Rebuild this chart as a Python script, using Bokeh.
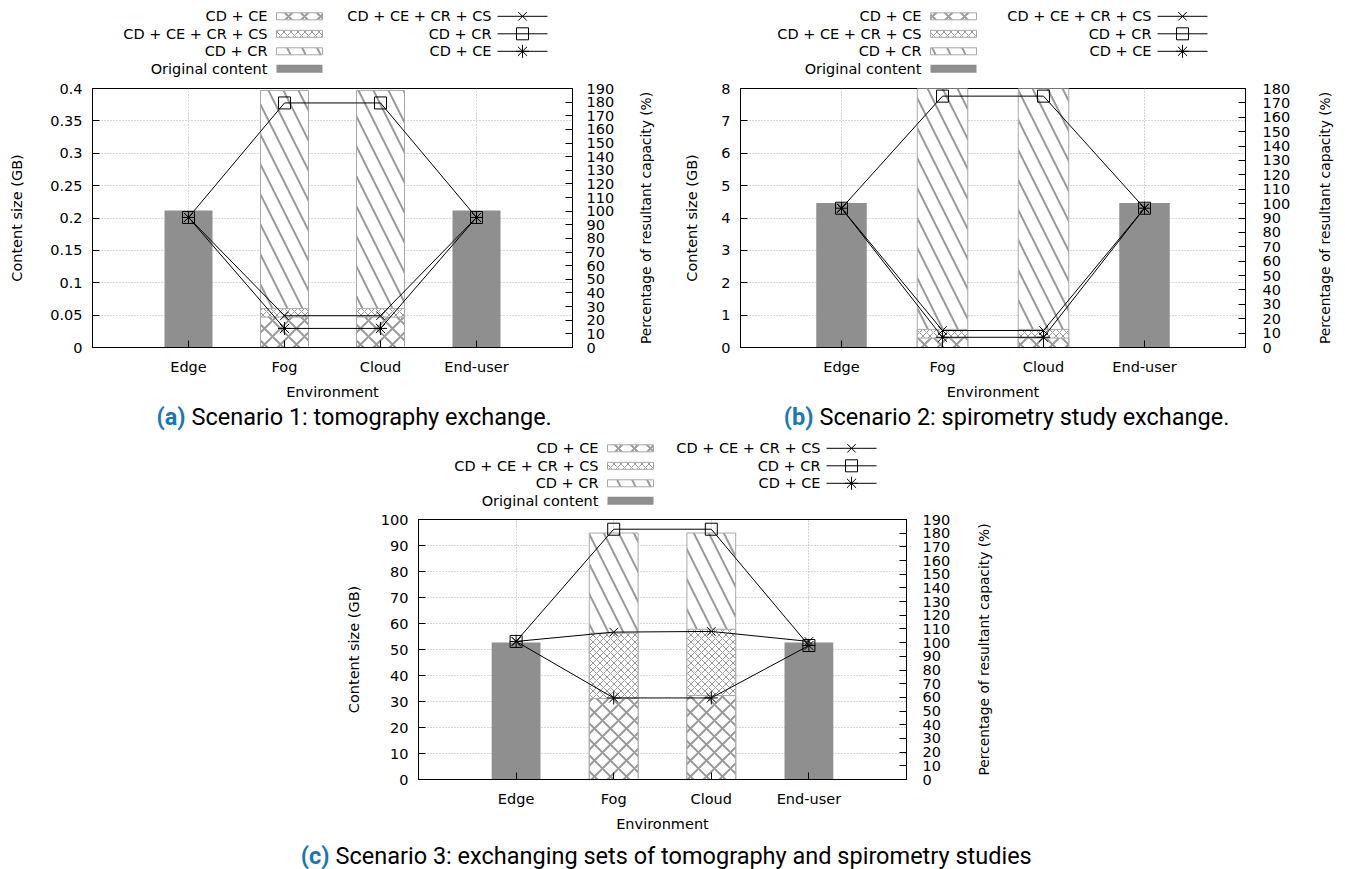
import math
from bokeh.plotting import figure
from bokeh.models import (Range1d, FactorRange, LinearAxis, FixedTicker,
                          CustomJSTickFormatter, Spacer, Label)
from bokeh.layouts import column, row
from bokeh.core.properties import value
from bokeh.embed import file_html
from bokeh.resources import INLINE

# ---------------- data ----------------
categories = ["Edge", "Fog", "Cloud", "End-user"]
original_envs = ["Edge", "End-user"]
reduced_envs = ["Fog", "Cloud"]

bar_legend_labels = ["CD + CE", "CD + CE + CR + CS", "CD + CR", "Original content"]
line_legend_labels = ["CD + CE + CR + CS", "CD + CR", "CD + CE"]

x_label = "Environment"
y_label = "Content size (GB)"
y2_label = "Percentage of resultant capacity (%)"

caption_tags = ["(a)", "(b)", "(c)"]
caption_texts = ["Scenario 1: tomography exchange.",
                 "Scenario 2: spirometry study exchange.",
                 "Scenario 3: exchanging sets of tomography and spirometry studies"]

# Scenario 1 (GB / %)
s1_original = [0.2116, 0.2116]
s1_cd_cr = [0.397, 0.397]
s1_cd_ce_cr_cs = [0.060, 0.060]
s1_cd_ce = [0.047, 0.047]
s1_pct_cd_ce_cr_cs = [95.4, 23.3, 23.3, 95.4]
s1_pct_cd_cr = [95.4, 179.4, 179.4, 95.4]
s1_pct_cd_ce = [95.4, 14.0, 14.0, 95.4]
s1_y_ticks = [0, 0.05, 0.1, 0.15, 0.2, 0.25, 0.3, 0.35, 0.4]
s1_y2_ticks = [0, 10, 20, 30, 40, 50, 60, 70, 80, 90, 100, 110, 120, 130, 140, 150, 160, 170, 180, 190]

# Scenario 2
s2_original = [4.46, 4.46]
s2_cd_cr = [8.3, 8.3]
s2_cd_ce_cr_cs = [0.56, 0.56]
s2_cd_ce = [0.29, 0.29]
s2_pct_cd_ce_cr_cs = [96.8, 11.8, 11.8, 96.8]
s2_pct_cd_cr = [96.8, 174.7, 174.7, 96.8]
s2_pct_cd_ce = [96.8, 7.1, 7.1, 96.8]
s2_y_ticks = [0, 1, 2, 3, 4, 5, 6, 7, 8]
s2_y2_ticks = [0, 10, 20, 30, 40, 50, 60, 70, 80, 90, 100, 110, 120, 130, 140, 150, 160, 170, 180]

# Scenario 3
s3_original = [52.7, 52.7]
s3_cd_cr = [94.8, 94.8]
s3_cd_ce_cr_cs = [56.3, 57.8]
s3_cd_ce = [31.2, 32.3]
s3_pct_cd_ce_cr_cs = [100.9, 107.7, 108.2, 100.9]
s3_pct_cd_cr = [100.9, 182.9, 182.9, 97.9]
s3_pct_cd_ce = [100.9, 59.6, 59.6, 97.9]
s3_y_ticks = [0, 10, 20, 30, 40, 50, 60, 70, 80, 90, 100]
s3_y2_ticks = [0, 10, 20, 30, 40, 50, 60, 70, 80, 90, 100, 110, 120, 130, 140, 150, 160, 170, 180, 190]

# ---------------- style ----------------
FONT = "DejaVu Sans"
FS = "14.5px"
Y2_FS = "13.8px"
CAP_FONT = "Roboto"
CAP_FS = "23.5px"
BAR_GRAY = "#8f8f8f"
HATCH_GRAY = "#9a9a9a"
OUTLINE_GRAY = "#a8a8a8"
GRID_GRAY = "#b0b0b0"
TAG_BLUE = "#1877b8"

bar_styles = [
    dict(fill_color="white", line_color=OUTLINE_GRAY, hatch_pattern="diagonal_cross",
         hatch_color=HATCH_GRAY, hatch_scale=16, hatch_weight=2),          # CD + CE
    dict(fill_color="white", line_color=OUTLINE_GRAY, hatch_pattern="diagonal_cross",
         hatch_color=HATCH_GRAY, hatch_scale=7, hatch_weight=1),           # CD + CE + CR + CS
    dict(fill_color="white", line_color=OUTLINE_GRAY, hatch_pattern="left_diagonal_line",
         hatch_color=HATCH_GRAY, hatch_scale=30, hatch_weight=2),          # CD + CR
    dict(fill_color=BAR_GRAY, line_color=None),                            # Original
]
line_markers = ["x", "square", "asterisk"]
marker_sizes = [12, 12, 13]


def blank_fig(width, height, xr, yr, bl=0, br=0, bt=0, bb=0):
    p = figure(width=width, height=height, x_range=xr, y_range=yr,
               toolbar_location=None, output_backend="svg",
               min_border_left=bl, min_border_right=br,
               min_border_top=bt, min_border_bottom=bb,
               x_axis_location=None, y_axis_location=None)
    p.grid.visible = False
    p.outline_line_color = None
    p.background_fill_color = "white"
    p.border_fill_color = "white"
    return p


def style_axis(ax, label_standoff, axis_label_standoff):
    ax.major_tick_in = 7
    ax.major_tick_out = 0
    ax.minor_tick_in = 0
    ax.minor_tick_out = 0
    ax.axis_line_color = "black"
    ax.major_tick_line_color = "black"
    ax.major_label_text_font = FONT
    ax.major_label_text_font_size = FS
    ax.major_label_text_color = "black"
    ax.axis_label_text_font = FONT
    ax.axis_label_text_font_size = FS
    ax.axis_label_text_font_style = "normal"
    ax.axis_label_text_color = "black"
    ax.major_label_standoff = label_standoff
    ax.axis_label_standoff = axis_label_standoff


def main_panel(y_ticks, y2_ticks, original, cr, cs, ce, pct_cs, pct_cr, pct_ce,
               fw, fh, bl, br, bt, bb, yls, yas, y2ls, fmt=None):
    p = figure(width=bl + fw + br, height=bt + fh + bb,
               x_range=FactorRange(factors=categories, range_padding=0.5,
                                   range_padding_units="absolute"),
               y_range=Range1d(0, y_ticks[-1]),
               toolbar_location=None, output_backend="svg",
               min_border_left=bl, min_border_right=br,
               min_border_top=bt, min_border_bottom=bb)
    p.extra_y_ranges = {"pct": Range1d(0, y2_ticks[-1])}
    p.background_fill_color = "white"
    p.border_fill_color = "white"
    p.outline_line_color = "black"
    p.outline_line_alpha = 1
    p.outline_line_width = 1

    p.vbar(x=reduced_envs, top=cr, bottom=0, width=0.5, **bar_styles[2])
    p.vbar(x=reduced_envs, top=cs, bottom=0, width=0.5, **bar_styles[1])
    p.vbar(x=reduced_envs, top=ce, bottom=0, width=0.5, **bar_styles[0])
    p.vbar(x=original_envs, top=original, bottom=0, width=0.5, **bar_styles[3])

    for vals, mk, sz in zip([pct_cs, pct_cr, pct_ce], line_markers, marker_sizes):
        p.line(categories, vals, y_range_name="pct", line_color="black", line_width=1)
        p.scatter(categories, vals, y_range_name="pct", marker=mk, size=sz,
                  line_color="black", fill_color=None, line_width=1)

    xax = p.xaxis[0]
    xax.axis_label = x_label
    style_axis(xax, 11, 6)
    yax = p.yaxis[0]
    yax.ticker = FixedTicker(ticks=y_ticks)
    if fmt is not None:
        yax.formatter = fmt
    yax.axis_label = y_label
    style_axis(yax, yls, yas)
    y2 = LinearAxis(y_range_name="pct", ticker=FixedTicker(ticks=y2_ticks))
    style_axis(y2, y2ls, 0)
    p.add_layout(y2, "right")

    p.ygrid[0].ticker = FixedTicker(ticks=y_ticks)
    for g in (p.xgrid[0], p.ygrid[0]):
        g.grid_line_color = GRID_GRAY
        g.grid_line_dash = "1 2"
        g.grid_line_width = 1
    return p


def right_label_strip(sw, fh, bt, bb, x_center):
    p = blank_fig(sw, bt + fh + bb, Range1d(0, sw), Range1d(0, 1), bt=bt, bb=bb)
    p.add_layout(Label(x=x_center, y=0.5, text=y2_label, angle=math.pi / 2,
                       text_align="center", text_baseline="middle",
                       text_font=FONT, text_font_size=Y2_FS, text_color="black"))
    return p


def legend_fig(width, height, fw, bl, br, sw_left, r_label_right, r_line_left):
    p = blank_fig(width, height, Range1d(0, fw), Range1d(height, 0), bl=bl, br=br)
    ys = [15.8 + 17.5 * i for i in range(4)]
    for i, st in enumerate(bar_styles):
        hh = 4 if i == 3 else 3.5
        p.quad(left=[sw_left], right=[sw_left + 46], top=[ys[i] - hh],
               bottom=[ys[i] + hh], **st)
    p.text(x=[sw_left - 9] * 4, y=ys, text=bar_legend_labels, text_align="right",
           text_baseline="middle", text_font=value(FONT), text_font_size=FS,
           text_color="black")
    ys2 = ys[:3]
    p.text(x=[r_label_right] * 3, y=ys2, text=line_legend_labels, text_align="right",
           text_baseline="middle", text_font=value(FONT), text_font_size=FS,
           text_color="black")
    p.segment(x0=[r_line_left] * 3, x1=[r_line_left + 50] * 3, y0=ys2, y1=ys2,
              line_color="black", line_width=1)
    for y, mk, sz in zip(ys2, line_markers, marker_sizes):
        p.scatter([r_line_left + 25], [y], marker=mk, size=sz, line_color="black",
                  fill_color=None, line_width=1)
    return p


def caption_fig(width, height, tags, texts, tag_right, y):
    p = blank_fig(width, height, Range1d(0, width), Range1d(height, 0))
    p.text(x=tag_right, y=[y] * len(tags), text=tags, text_align="right",
           text_baseline="middle", text_font=value(CAP_FONT), text_font_size=CAP_FS,
           text_font_style="bold", text_color=TAG_BLUE)
    p.text(x=[t + 6 for t in tag_right], y=[y] * len(tags), text=texts, text_align="left",
           text_baseline="middle", text_font=value(CAP_FONT), text_font_size=CAP_FS,
           text_color="black")
    return p


def panel(leg_pos, strip_w, strip_x, fw, fh, bl, br, bt, bb, main_args, axis_args):
    mp = main_panel(*main_args, fw, fh, bl, br, bt, bb, *axis_args)
    total_w = bl + fw + br + strip_w
    lg = legend_fig(total_w, 80, fw, bl, br + strip_w, *leg_pos)
    st = right_label_strip(strip_w, fh, bt, bb, strip_x)
    return column(lg, row(mp, st))


fmt1 = CustomJSTickFormatter(code="return String(Number(tick.toFixed(2)));")

panelA = panel((184, 399, 405), 28, 13, 480, 259, 92, 60, 8, 56,
               (s1_y_ticks, s1_y2_ticks, s1_original, s1_cd_cr, s1_cd_ce_cr_cs, s1_cd_ce,
                s1_pct_cd_ce_cr_cs, s1_pct_cd_cr, s1_pct_cd_ce),
               (10, 22, 14, fmt1))

panelB = panel((190, 411, 417), 40, 19, 505, 259, 80, 60, 8, 56,
               (s2_y_ticks, s2_y2_ticks, s2_original, s2_cd_cr, s2_cd_ce_cr_cs, s2_cd_ce,
                s2_pct_cd_ce_cr_cs, s2_pct_cd_cr, s2_pct_cd_ce),
               (10, 18, 17))

capAB = caption_fig(1345, 29, caption_tags[:2], caption_texts[:2], [185, 813], 13)

panelC = panel((189, 402, 408), 40, 17, 488, 260, 88, 60, 7, 56,
               (s3_y_ticks, s3_y2_ticks, s3_original, s3_cd_cr, s3_cd_ce_cr_cs, s3_cd_ce,
                s3_pct_cd_ce_cr_cs, s3_pct_cd_cr, s3_pct_cd_ce),
               (10, 16, 16))

capC = caption_fig(1345, 34, caption_tags[2:], caption_texts[2:], [329], 20)

layout = column(
    row(panelA, panelB),
    capAB,
    row(Spacer(width=330, height=403), panelC),
    capC,
)

open("out.html", "w").write(file_html(layout, INLINE))
